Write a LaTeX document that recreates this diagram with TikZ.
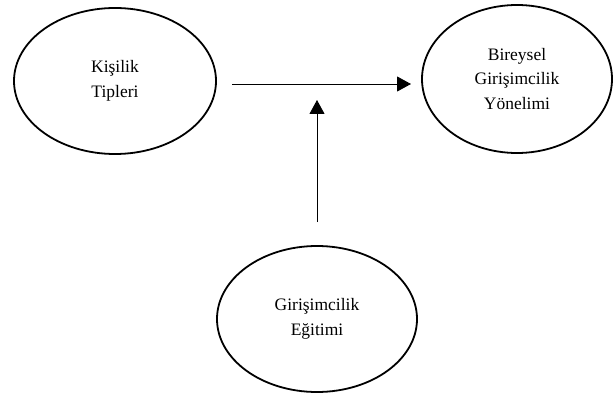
\documentclass[tikz,border=0pt]{standalone}
\usepackage{fontspec}
\setmainfont{Liberation Serif}
\usetikzlibrary{shapes.geometric,arrows.meta}
\begin{document}
\begin{tikzpicture}[x=1pt,y=-1pt,
  oval/.style={ellipse,draw,line width=1.8pt,inner sep=0pt,align=center,
    font=\fontsize{17.5}{24.5}\selectfont},
  conn/.style={line width=0.9pt,-{Triangle[length=14pt,width=15pt]}}]
\useasboundingbox (0,0) rectangle (615,398);
\node[oval,minimum width=202pt,minimum height=146pt] (kt) at (115,81) {Kişilik\\Tipleri};
\node[oval,minimum width=190pt,minimum height=148pt] (bgy) at (517,79) {Bireysel\\Girişimcilik\\Yönelimi};
\node[oval,minimum width=200pt,minimum height=146pt] (ge) at (317,319) {Girişimcilik\\Eğitimi};
\coordinate (h1) at (232,84);
\coordinate (h2) at (411,84);
\coordinate (v1) at (317,222);
\coordinate (v2) at (317,100);
\draw[conn] (h1) -- (h2);
\draw[conn] (v1) -- (v2);
\end{tikzpicture}
\end{document}
